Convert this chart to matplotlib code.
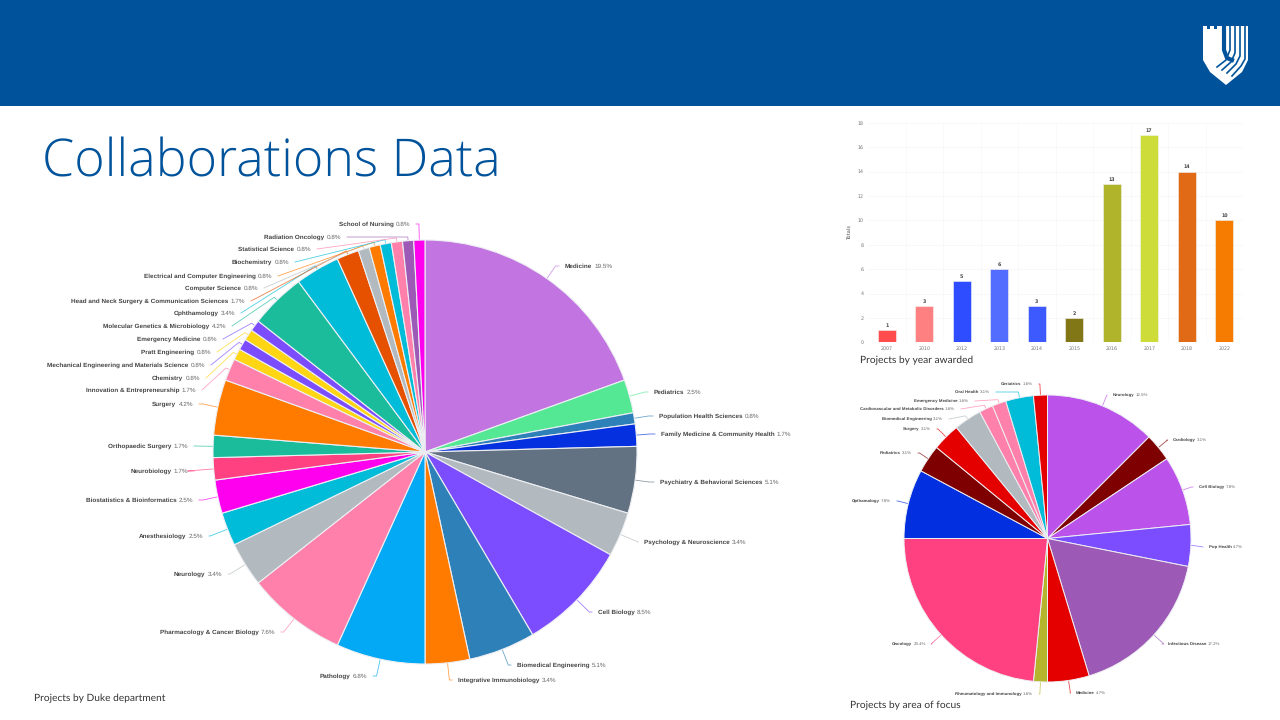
import matplotlib
matplotlib.use("Agg")
import math
import matplotlib.pyplot as plt
from matplotlib.patches import Rectangle, Polygon

plt.rcParams["text.hinting"] = "none"
plt.rcParams["text.hinting_factor"] = 32

dept_names = ["Medicine", "Pediatrics", "Population Health Sciences", "Family Medicine & Community Health",
              "Psychiatry & Behavioral Sciences", "Psychology & Neuroscience", "Cell Biology",
              "Biomedical Engineering", "Integrative Immunobiology", "Pathology", "Pharmacology & Cancer Biology",
              "Neurology", "Anesthesiology", "Biostatistics & Bioinformatics", "Neurobiology",
              "Orthopaedic Surgery", "Surgery", "Innovation & Entrepreneurship", "Chemistry",
              "Mechanical Engineering and Materials Science", "Pratt Engineering", "Emergency Medicine",
              "Molecular Genetics & Microbiology", "Ophthamology", "Head and Neck Surgery & Communication Sciences",
              "Computer Science", "Electrical and Computer Engineering", "Biochemistry", "Statistical Science",
              "Radiation Oncology", "School of Nursing"]
# project counts, 118 in all; the labels show these as percentages
dept_counts = [23, 3, 1, 2, 6, 4, 10, 6, 4, 8, 9, 4, 3, 3, 2, 2, 5, 2, 1, 1, 1, 1, 5, 4, 2, 1, 1, 1, 1, 1, 1]
dept_colors = ["#C274E0", "#55E894", "#2E80B8", "#0530E0", "#637282", "#B2BABF", "#7C4DFF", "#2E80B8",
               "#FF7B00", "#03A9F4", "#FF80AB", "#B2BABF", "#00BCD8", "#FF00EE", "#FF4081", "#1ABC9C",
               "#FF7B00", "#FF80AB", "#FFD514", "#7C4DFF", "#FFD514", "#7C4DFF", "#1ABC9C", "#00BCD8",
               "#E65100", "#B2BABF", "#FF7B00", "#00BCD8", "#FF80AB", "#9C59B5", "#FF00EE"]
dept_label_x = [565, 654, 659, 661, 660, 644, 598, 517, 458, 367, 275, 222, 203, 193, 188, 188, 193, 196,
                200, 205, 211, 217, 226, 235, 245, 258, 272, 289, 311, 341, 410]
dept_label_y = [266, 392, 416, 434, 482, 542, 612, 665, 680, 676, 632, 574, 536, 500, 471, 446, 404, 390,
                378, 365, 352, 339, 326, 313, 301, 288, 276, 262, 249, 237, 224]

focus_names = ["Neurology", "Cardiology", "Cell Biology", "Pop Health", "Infectious Disease", "Medicine",
               "Rheumatology and Immunology", "Oncology", "Opthamalogy", "Pediatrics", "Surgery",
               "Biomedical Engineering", "Cardiovascular and Metabolic Disorders", "Emergency Medicine",
               "Oral Health", "Geriatrics"]
# 64 in all
focus_counts = [8, 2, 5, 3, 11, 3, 1, 15, 5, 2, 2, 2, 1, 1, 2, 1]
focus_colors = ["#BB52EA", "#7F0000", "#BB52EA", "#7C4DFF", "#9C59B5", "#E50000", "#B5B52D", "#FF4081",
                "#0230E0", "#7F0000", "#E50000", "#B2BABF", "#FF80AB", "#FF80AB", "#00BCD8", "#E50000"]
focus_label_x = [1113, 1173, 1199, 1209, 1168, 1076, 1033, 926, 891, 912, 931, 943, 955, 969, 990, 1033]
focus_label_y = [395, 440, 487, 547, 644, 693, 694, 644, 501, 453, 429, 419, 409, 401, 392, 384]

years = ["2007", "2010", "2012", "2013", "2014", "2015", "2016", "2017", "2018", "2022"]
year_totals = [1, 3, 5, 6, 3, 2, 13, 17, 14, 10]
year_colors = ["#FF4D4D", "#FF8080", "#2E4DFF", "#536DFE", "#3D5AFE", "#827717", "#AFB42B", "#CDDC39",
               "#E06A16", "#F57C00"]

W, H = 1280, 720
fig = plt.figure(figsize=(12.8, 7.2), dpi=100, facecolor="white")


def px_axes(x0, y0, x1, y1, **kw):
    return fig.add_axes([x0 / W, 1 - y1 / H, (x1 - x0) / W, (y1 - y0) / H], **kw)


bg = fig.add_axes([0, 0, 1, 1])
bg.set_xlim(0, W)
bg.set_ylim(H, 0)
bg.axis("off")
bg.add_patch(Rectangle((0, 0), W, 106, color="#00539B", lw=0))

# duke shield, rough
bg.add_patch(Polygon([(1203, 26), (1207, 26), (1207, 29), (1210, 29), (1210, 26), (1214, 26), (1214, 29),
                      (1217, 29), (1217, 26), (1222, 26), (1248, 26), (1248, 60), (1242, 72), (1226, 85),
                      (1210, 72), (1203, 60)], color="white", lw=0, zorder=3))
bg.plot([1224, 1224, 1227, 1232], [24, 50, 58, 60], color="#00539B", lw=3, zorder=4)
for i, xs in enumerate([1230, 1235, 1240, 1245]):
    bg.plot([xs, xs, xs - 4, xs - 13], [24, 50 + i * 3, 60 + i * 2, 67 + i * 3], color="#00539B", lw=1.2, zorder=4)

bg.text(42, 176, "Collaborations Data", fontsize=37.4, family="Open Sans", weight="light", color="#00539B",
        va="baseline", ha="left")
caption = dict(family="Lato", fontsize=7.35, color="#333333", va="center", ha="left")
bg.text(34, 698, "Projects by Duke department", **caption)
bg.text(860, 360, "Projects by year awarded", **caption)
bg.text(850, 705, "Projects by area of focus", **caption)


def draw_pie(cx, cy, r, counts, colors, names, label_x, label_y, fs, lw):
    ax = px_axes(cx - r, cy - r, cx + r, cy + r)
    ax.pie(counts, colors=colors, startangle=90, counterclock=False, radius=1,
           wedgeprops=dict(edgecolor="#EDEFF3", linewidth=lw))
    ax.set_xlim(-1, 1)
    ax.set_ylim(-1, 1)
    renderer = fig.canvas.get_renderer()
    total = sum(counts)
    acc = 0
    for name, v, col, lx, ly in zip(names, counts, colors, label_x, label_y):
        ang = 2 * math.pi * (acc + v / 2) / total
        acc += v
        dx, dy = math.sin(ang), -math.cos(ang)
        ex, ey = cx + r * dx, cy + r * dy
        # radial bit out to the label's height when that is short, else a stub
        t = (ly - ey) / dy if abs(dy) > 0.05 else 0
        if t < 3 or t > 30:
            t = 4
        right_side = dx > 0
        end = lx - 6 if right_side else lx + 6
        bg.plot([ex, ex + t * dx, end], [ey, ey + t * dy, ly], color=col, lw=0.6, alpha=0.7, zorder=2,
                solid_joinstyle="round")
        pct = f"{100 * v / total:.1f}%"
        style = dict(family="Liberation Sans", fontsize=fs, va="center")
        if right_side:
            t1 = bg.text(lx, ly, name, color="#444444", weight="bold", ha="left", **style)
            w = t1.get_window_extent(renderer).width
            bg.text(lx + w + fs * 0.45, ly, pct, color="#666666", ha="left", **style)
        else:
            t2 = bg.text(lx, ly, pct, color="#666666", ha="right", **style)
            w = t2.get_window_extent(renderer).width
            bg.text(lx - w - fs * 0.45, ly, name, color="#444444", weight="bold", ha="right", **style)


draw_pie(425, 452, 212, dept_counts, dept_colors, dept_names, dept_label_x, dept_label_y, 4.6, 0.8)
draw_pie(1047.5, 538.5, 143.5, focus_counts, focus_colors, focus_names, focus_label_x, focus_label_y, 3.15, 0.7)

ax = px_axes(868, 122.7, 1243, 342.3)
ax.bar(years, year_totals, width=0.48, color=year_colors, zorder=3, edgecolor="#F3F3F3", linewidth=0.4)
ax.set_xlim(-0.5, 9.5)
ax.set_ylim(0, 18)
ax.set_yticks(range(0, 19, 2))
ax.set_axisbelow(True)
ax.grid(axis="y", color="#F5F5F5", lw=0.5)
for i in range(1, 10):
    ax.axvline(i - 0.5, color="#F8F8F8", lw=0.5, zorder=0)
for s in ax.spines.values():
    s.set_visible(False)
ax.tick_params(length=0, labelsize=3.4, labelcolor="#777777", pad=3)
ax.set_ylabel("Totals", fontsize=3.8, color="#555555", labelpad=4)
for i, v in enumerate(year_totals):
    ax.text(i, v + 0.18, str(v), ha="center", va="bottom", fontsize=3.4, weight="bold", color="#444444")

fig.savefig("out.png", dpi=100)
